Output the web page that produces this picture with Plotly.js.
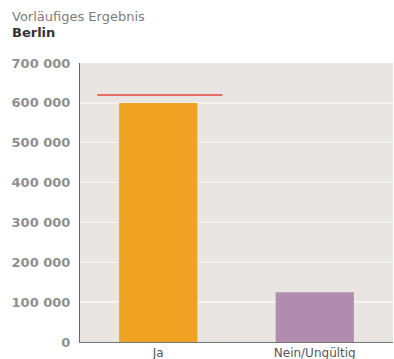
<!DOCTYPE html>
<html><head><meta charset="utf-8">
<script src="https://cdn.plot.ly/plotly-3.0.1.min.js"></script>
<style>html,body{margin:0;padding:0;background:#fff;}#chart{width:394px;height:359px;}</style>
</head><body><div id="chart"></div>
<script>
const categories = ["Ja", "Nein/Ungültig"];
const votes = [599588, 125000];
const barColors = ["#f0a323", "#b08cae"];
const quorum = [620000];
const yTicks = [0, 100000, 200000, 300000, 400000, 500000, 600000, 700000];

const trace = {
  type: "bar", x: categories, y: votes, width: 0.5,
  marker: {color: barColors}, hoverinfo: "none"
};
const layout = {
  width: 394, height: 359,
  margin: {l: 80, r: 1, t: 63, b: 17},
  paper_bgcolor: "#ffffff", plot_bgcolor: "#e8e5e3",
  separators: ", ",
  showlegend: false,
  font: {family: "DejaVu Sans, sans-serif", color: "#8a8a8a"},
  xaxis: {
    type: "category", range: [-0.5, 1.5], showgrid: false,
    showline: true, linecolor: "#777", linewidth: 1,
    ticks: "", 
    tickfont: {size: 12, color: "#555", family: "DejaVu Sans, sans-serif"}, fixedrange: true
  },
  yaxis: {
    range: [0, 700000], tickvals: yTicks, tickformat: ",d",
    showgrid: true, gridcolor: "#f6f4f3", gridwidth: 1.5,
    showline: true, linecolor: "#666", linewidth: 1, zeroline: false,
    ticks: "outside", ticklen: 6, tickcolor: "rgba(0,0,0,0)",
    tickfont: {size: 13, color: "#8f8f8f", family: "DejaVu Sans, sans-serif", weight: "bold"}
  },
  shapes: [{
    type: "line", xref: "x", yref: "y", x0: -0.39, x1: 0.41,
    y0: quorum[0], y1: quorum[0], line: {color: "#e8453c", width: 1.5}
  }],
  annotations: [
    {text: "Vorläufiges Ergebnis", xref: "paper", yref: "paper", x: 0, y: 1, showarrow: false,
     xanchor: "left", yanchor: "middle", xshift: -70, yshift: 47,
     font: {size: 13, color: "#7d7d7d", family: "DejaVu Sans, sans-serif"}},
    {text: "<b>Berlin</b>", xref: "paper", yref: "paper", x: 0, y: 1, showarrow: false,
     xanchor: "left", yanchor: "middle", xshift: -70, yshift: 31,
     font: {size: 13, color: "#333", family: "DejaVu Sans, sans-serif"}}
  ]
};
Plotly.newPlot("chart", [trace], layout, {displayModeBar: false, staticPlot: true});
</script></body></html>
